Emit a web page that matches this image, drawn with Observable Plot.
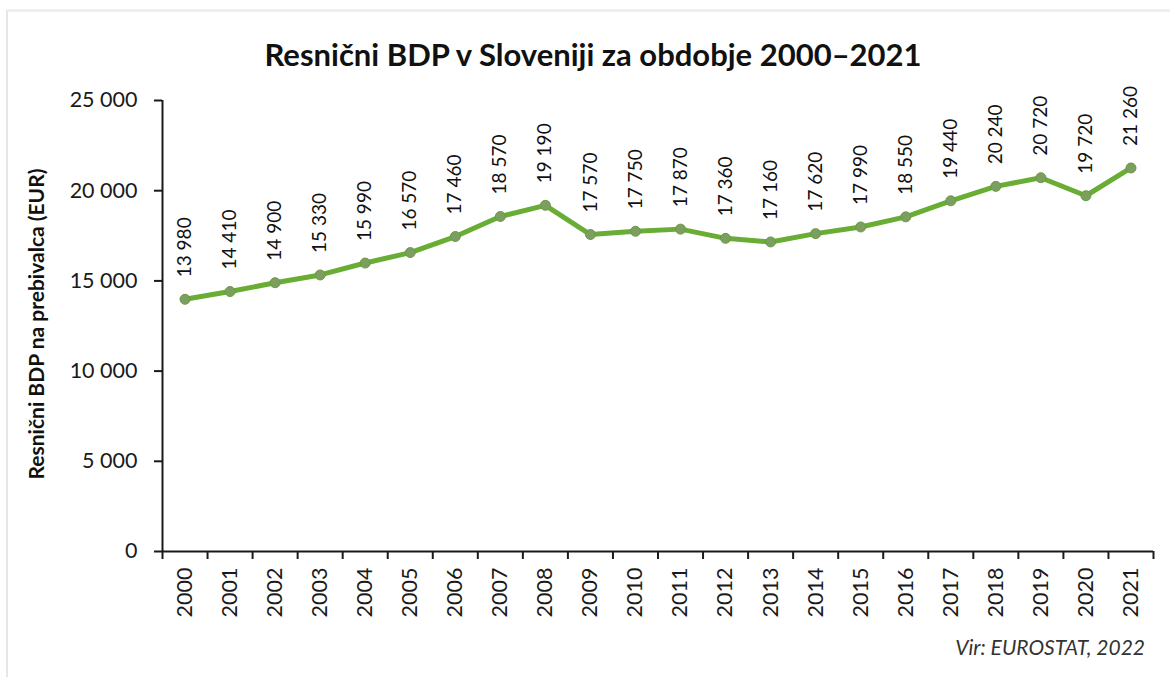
<!DOCTYPE html>
<html>
<head>
<meta charset="utf-8">
<script src="https://cdn.jsdelivr.net/npm/d3@7"></script>
<script src="https://cdn.jsdelivr.net/npm/@observablehq/plot@0.6"></script>
<style>
  body { margin: 0; background: #fff; font-family: Lato, "Open Sans", sans-serif; }
  #wrap { position: relative; width: 1170px; height: 677px; overflow: hidden; background: #fff; }
  #frame { position: absolute; left: 6px; top: 9px; width: 1200px; height: 700px; border-left: 2px solid #e6e6e6; border-top: 3px solid #efefef; }
  #title { position: absolute; top: 36px; left: 8px; width: 1170px; text-align: center; font-weight: 700; font-size: 31px; line-height: 36px; color: #111; }
  #ylabel { position: absolute; left: -164px; top: 311px; width: 400px; height: 26px; line-height: 26px; text-align: center; transform: rotate(-90deg); font-weight: 700; font-size: 21px; color: #111; }
  #chart { position: absolute; left: 0; top: 80px; }
  #caption { position: absolute; right: 25px; top: 635px; line-height: 24px; font-style: italic; font-size: 21px; color: #333; }
</style>
</head>
<body>
<div id="wrap">
  <div id="frame"></div>
  <div id="title">Resnični BDP v Sloveniji za obdobje 2000–2021</div>
  <div id="ylabel">Resnični BDP na prebivalca (EUR)</div>
  <div id="chart"></div>
  <div id="caption">Vir: EUROSTAT, 2022</div>
</div>
<script>
const years = [2000, 2001, 2002, 2003, 2004, 2005, 2006, 2007, 2008, 2009, 2010,
               2011, 2012, 2013, 2014, 2015, 2016, 2017, 2018, 2019, 2020, 2021];
const gdp = [13980, 14410, 14900, 15330, 15990, 16570, 17460, 18570, 19190, 17570, 17750,
             17870, 17360, 17160, 17620, 17990, 18550, 19440, 20240, 20720, 19720, 21260];
const yTicks = [0, 5000, 10000, 15000, 20000, 25000];

const data = years.map((year, i) => ({year, value: gdp[i]}));
const fmt = d3.formatLocale({decimal: ",", thousands: " ", grouping: [3], currency: ["", " €"]}).format(",d");

const x0 = years[0] - 0.5;
const x1 = years[years.length - 1] + 0.5;
const bounds = [...years.map(y => y - 0.5), x1];

const chart = Plot.plot({
  width: 1170,
  height: 560,
  marginTop: 20,
  marginBottom: 89,
  marginLeft: 162,
  marginRight: 17,
  style: {fontFamily: "Lato, 'Open Sans', sans-serif", fontSize: "21px", color: "#1a1a1a", background: "transparent"},
  x: {type: "linear", domain: [x0, x1]},
  y: {domain: [0, 25000]},
  marks: [
    Plot.axisY(yTicks, {tickSize: 8, tickPadding: 17, tickFormat: fmt, stroke: "#1a1a1a", strokeWidth: 2, fontSize: 21.5, label: null}),
    Plot.axisX(bounds, {tickSize: 8, tickFormat: () => "", stroke: "#1a1a1a", strokeWidth: 2, label: null}),
    Plot.axisX(years, {tickSize: 0, tickPadding: 16, tickRotate: -90, tickFormat: d => String(d), fontSize: 21.5, label: null}),
    Plot.ruleY([0], {stroke: "#1a1a1a", strokeWidth: 2}),
    Plot.ruleX([x0], {stroke: "#1a1a1a", strokeWidth: 2}),
    Plot.line(data, {x: "year", y: "value", stroke: "#69ad35", strokeWidth: 5}),
    Plot.dot(data, {x: "year", y: "value", r: 5, fill: "#7c9e5e", stroke: "#6a9a48", strokeWidth: 1}),
    Plot.text(data, {x: "year", y: "value", text: d => fmt(d.value), rotate: -90, textAnchor: "start", dy: -22, fontSize: 19, fill: "#111"})
  ]
});
document.getElementById("chart").appendChild(chart);
</script>
</body>
</html>
